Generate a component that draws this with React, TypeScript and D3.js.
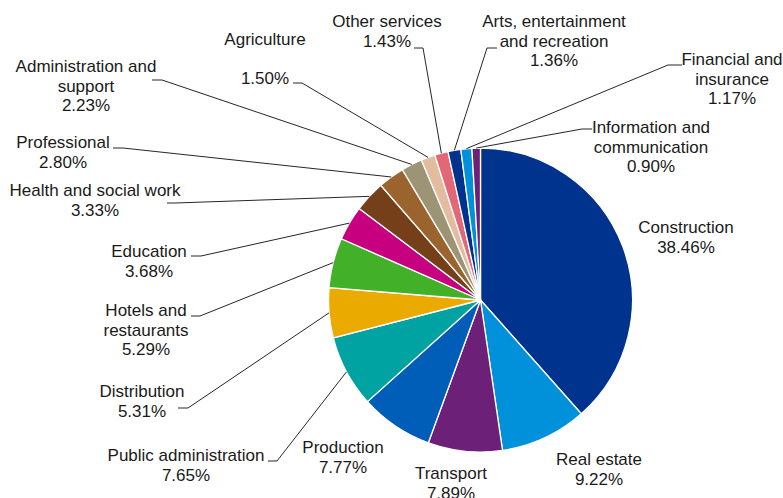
import * as d3 from "d3";
import { useEffect, useRef } from "react";

// sectors, clockwise from 12 o'clock
const categories = [
  "Construction",
  "Real estate",
  "Transport",
  "Production",
  "Public administration",
  "Distribution",
  "Hotels and\nrestaurants",
  "Education",
  "Health and social work",
  "Professional",
  "Administration and\nsupport",
  "Agriculture\n",
  "Other services",
  "Arts, entertainment\nand recreation",
  "Financial and\ninsurance",
  "Information and\ncommunication",
];

const shares = [
  38.46, 9.22, 7.89, 7.77, 7.65, 5.31, 5.29, 3.68, 3.33, 2.8, 2.23, 1.5, 1.43,
  1.36, 1.17, 0.9,
];

const colors = [
  "#00338D", "#0091DA", "#6D2077", "#005EB8", "#00A3A1", "#EAAA00",
  "#43B02A", "#C6007E", "#753F19", "#9B642E", "#9D9375", "#E3BC9F",
  "#E36877", "#00338D", "#0091DA", "#6D2077",
];

// label placement: centre x, first baseline, optional leader stub [x1, y, x2]
const labelPos: [number, number][] = [
  [686, 233], [599, 465], [451, 479], [343, 453], [186, 461], [142, 397],
  [146, 316], [149, 257], [95, 196], [63, 148], [86, 72], [265, 45],
  [387, 27], [554, 27], [732, 65], [651, 133],
];
const leaders: ([number, number, number] | null)[] = [
  null, null, null, null,
  [268, 461, 277], [178, 408, 188], [191, 316, 200], [191, 256, 201],
  [167, 203, 175], [113, 148, 123], [152, 80, 162], [293, 83, 302],
  [414, 48, 423], [497, 48, 487], [682, 65, 668], [592, 129, 582],
];

export default function App() {
  const ref = useRef<SVGSVGElement | null>(null);
  const width = 783;
  const height = 498;

  useEffect(() => {
    if (!ref.current) return;
    const svg = d3.select(ref.current);
    svg.selectAll("*").remove();

    const cx = 480.5;
    const cy = 300;
    const r = 152;
    const lineH = 19.5;

    const data = categories.map((c, i) => ({ name: c, value: shares[i], i }));
    const pie = d3
      .pie<{ name: string; value: number; i: number }>()
      .sort(null)
      .value((d) => d.value);
    const arcs = pie(data);
    const arc = d3
      .arc<d3.PieArcDatum<{ name: string; value: number; i: number }>>()
      .innerRadius(0)
      .outerRadius(r);

    const g = svg.append("g").attr("transform", `translate(${cx},${cy})`);

    g.selectAll("path")
      .data(arcs)
      .join("path")
      .attr("d", arc)
      .attr("fill", (d) => colors[d.data.i])
      .attr("stroke", "#fff")
      .attr("stroke-width", 1.3)
      .attr("stroke-linejoin", "round");

    // leader lines
    arcs.forEach((a) => {
      const ld = leaders[a.data.i];
      if (!ld) return;
      const mid = (a.startAngle + a.endAngle) / 2;
      const px = cx + r * Math.sin(mid);
      const py = cy - r * Math.cos(mid);
      svg
        .append("path")
        .attr("d", d3.line()([[ld[0], ld[1]], [ld[2], ld[1]], [px, py]]))
        .attr("fill", "none")
        .attr("stroke", "#262626")
        .attr("stroke-width", 1);
    });

    // labels
    arcs.forEach((a) => {
      const [lx, ly] = labelPos[a.data.i];
      const lines = [...a.data.name.split("\n"), `${a.data.value.toFixed(2)}%`];
      const t = svg
        .append("text")
        .attr("x", lx)
        .attr("y", ly)
        .attr("text-anchor", "middle")
        .attr("font-family", "'Liberation Sans', Arial, sans-serif")
        .attr("font-size", 17)
        .attr("fill", "#1a1a1a");
      lines.forEach((ln, k) => {
        t.append("tspan")
          .attr("x", lx)
          .attr("y", ly + k * lineH)
          .text(ln);
      });
    });
  }, []);

  return (
    <svg
      ref={ref}
      width={width}
      height={height}
      style={{ position: "absolute", left: 0, top: 0, background: "#fff" }}
    />
  );
}
